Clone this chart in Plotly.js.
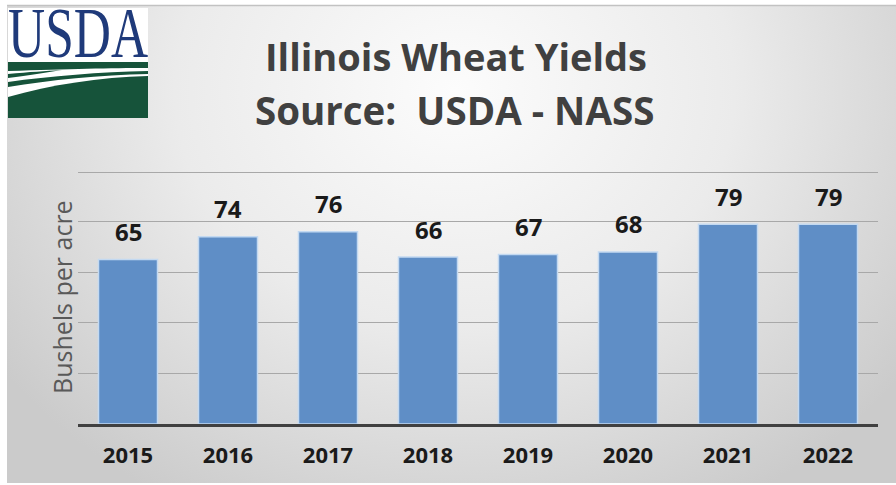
<!DOCTYPE html>
<html>
<head>
<meta charset="utf-8">
<script src="https://cdn.plot.ly/plotly-3.0.1.min.js"></script>
<style>html,body{margin:0;padding:0;background:#fff;}#chart{width:896px;height:485px;}</style>
</head>
<body>
<div id="chart"></div>
<script>
// ---- data ----
const years = ["2015", "2016", "2017", "2018", "2019", "2020", "2021", "2022"];
const yields = [65, 74, 76, 66, 67, 68, 79, 79];
const gridTicks = [20, 40, 60, 80, 99.6];
const titleLine1 = "Illinois Wheat Yields";
const titleLine2 = "Source:\u00a0 USDA - NASS";
const yTitle = "Bushels per acre";
const logoText = "USDA";

// ---- layout geometry (pixels) ----
const W = 896, H = 485, L = 78, R = 18, T = 171, B = 61;
const PW = W - L - R, PH = H - T - B;
const px = x => (x - L) / PW;
const py = y => (H - B - y) / PH;

const bg = `<svg xmlns="http://www.w3.org/2000/svg" width="${W}" height="${H}" viewBox="0 0 ${W} ${H}">
<defs>
<radialGradient id="g" gradientUnits="userSpaceOnUse" cx="455" cy="90" r="560" gradientTransform="translate(455 90) scale(1 0.85) translate(-455 -90)">
<stop offset="0" stop-color="#fcfcfc"/>
<stop offset="0.5" stop-color="#ebebeb"/>
<stop offset="1" stop-color="#cbcbcb"/>
</radialGradient>
</defs>
<rect x="0" y="0" width="${W}" height="${H}" fill="#ffffff"/>
<rect x="7" y="5" width="${W - 7}" height="478" fill="url(#g)"/>
<line x1="7" y1="5.5" x2="${W}" y2="5.5" stroke="#c2c2c2" stroke-width="1.5"/>
<rect x="8" y="8" width="140" height="110" fill="#ffffff"/>
<path d="M8,62 H148 V68 C110,68 70,69 8,71 Z" fill="#16533a"/>
<path d="M8,74 C30,72 45,71 62,70 C45,73 30,75 8,78 Z" fill="#16533a"/>
<path d="M8,82 C50,76 100,72 148,71 V74 C100,75 50,80 8,87 Z" fill="#16533a"/>
<path d="M8,97 C50,85 100,77 148,76 V118 H8 Z" fill="#16533a"/>
</svg>`;

const trace = {
  type: "bar",
  x: years,
  y: yields,
  marker: { color: "#5f8ec6", line: { color: "#c3d9f1", width: 1.5 } },
  hoverinfo: "none"
};

const annotations = [];
years.forEach((yr, i) => {
  annotations.push({
    x: i, y: yields[i], xref: "x", yref: "y",
    text: String(yields[i]), showarrow: false,
    yanchor: "middle", yshift: 28,
    font: { family: "Open Sans", size: 24, color: "#1a1a1a", weight: "bold" }
  });
});
annotations.push({
  xref: "paper", yref: "paper", x: px(456), y: py(56),
  text: titleLine1, showarrow: false, xanchor: "center", yanchor: "middle",
  font: { family: "Open Sans", size: 38, color: "#404040", weight: "bold" }
});
annotations.push({
  xref: "paper", yref: "paper", x: px(454), y: py(110),
  text: titleLine2, showarrow: false, xanchor: "center", yanchor: "middle",
  font: { family: "Open Sans", size: 38.5, color: "#404040", weight: "bold" }
});
annotations.push({
  xref: "paper", yref: "paper", x: px(62), y: py(297),
  text: yTitle, showarrow: false, textangle: -90, xanchor: "center", yanchor: "middle",
  font: { family: "Open Sans", size: 25, color: "#595959" }
});
annotations.push({
  xref: "paper", yref: "paper", x: px(78), y: py(33),
  text: logoText, showarrow: false, xanchor: "center", yanchor: "middle",
  font: { family: "Liberation Serif", size: 72, color: "#1f3a7a" }
});

const layout = {
  width: W, height: H,
  margin: { l: L, r: R, t: T, b: B, pad: 0 },
  paper_bgcolor: "#ffffff",
  plot_bgcolor: "rgba(0,0,0,0)",
  showlegend: false,
  bargap: 0.41,
  xaxis: {
    type: "category", range: [-0.5, years.length - 0.5], autorange: false,
    showline: true, linecolor: "#404040", linewidth: 3,
    ticks: "", showgrid: false, zeroline: false,
    ticklabelstandoff: 10,
    tickfont: { family: "Open Sans", size: 22, color: "#1a1a1a", weight: "bold" }
  },
  yaxis: {
    range: [0, 100], autorange: false, tickvals: gridTicks, showticklabels: false,
    showgrid: true, gridcolor: "#a8a8a8", gridwidth: 1,
    zeroline: false, showline: false, ticks: ""
  },
  images: [{
    source: "data:image/svg+xml;charset=utf-8," + encodeURIComponent(bg),
    xref: "paper", yref: "paper",
    x: px(0), y: py(0), sizex: W / PW, sizey: H / PH,
    xanchor: "left", yanchor: "top", sizing: "stretch", layer: "below"
  }],
  annotations: annotations
};

Plotly.newPlot("chart", [trace], layout, { staticPlot: true, displayModeBar: false }).then(gd => {
  const texts = gd.querySelectorAll(".annotation-text-g text");
  texts.forEach(t => {
    if (t.textContent === logoText) {
      t.setAttribute("textLength", "140");
      t.setAttribute("lengthAdjust", "spacingAndGlyphs");
    }
  });
});
</script>
</body>
</html>
